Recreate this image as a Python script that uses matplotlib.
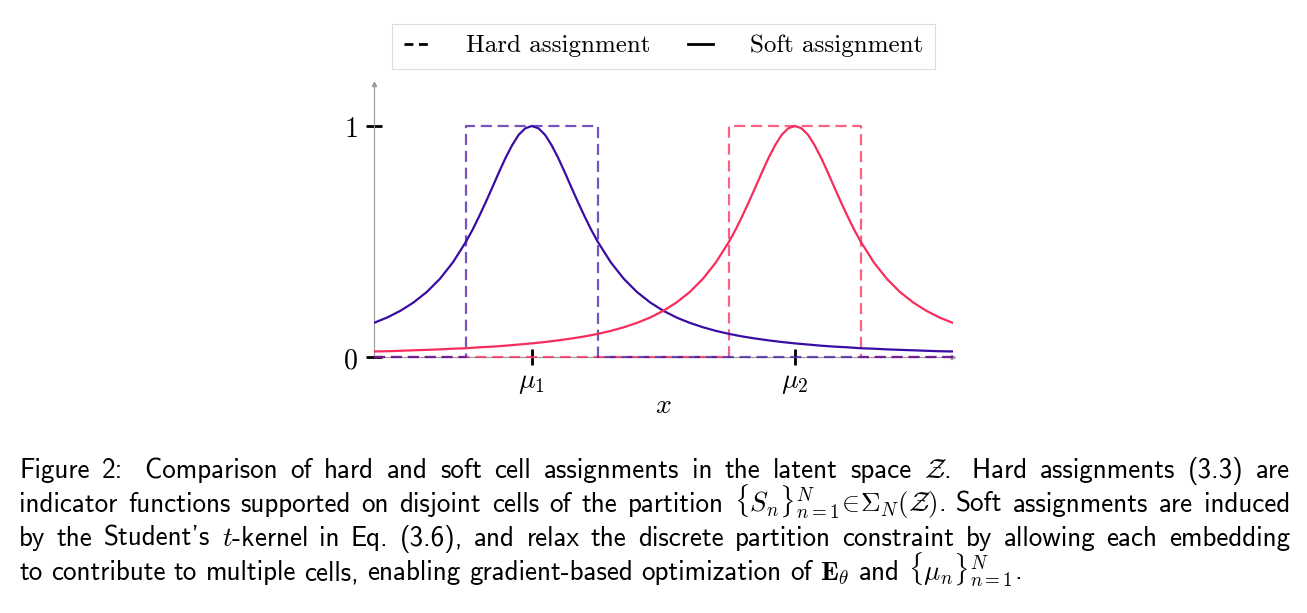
import matplotlib
matplotlib.use("Agg")
import matplotlib.pyplot as plt
from matplotlib.lines import Line2D

plt.rcParams['mathtext.fontset'] = 'cm'
plt.rcParams['axes.unicode_minus'] = False

# soft assignment (Student's t-kernel), finer near the peaks
x_soft_1 = [-2.2, -2.1, -2.0, -1.9, -1.8, -1.7, -1.6, -1.5,
            -1.45, -1.4, -1.35, -1.3, -1.25, -1.2, -1.15, -1.1, -1.05, -1.0,
            -0.95, -0.9, -0.85, -0.8, -0.75, -0.7, -0.65, -0.6, -0.55, -0.5,
            -0.4, -0.3, -0.2, -0.1, 0.0, 0.1, 0.2, 0.3, 0.4, 0.5, 0.6, 0.7, 0.8,
            0.9, 1.0, 1.1, 1.2, 1.3, 1.4, 1.5, 1.6, 1.7, 1.8, 1.9, 2.0, 2.1, 2.2]
soft_1 = [0.148, 0.171, 0.200, 0.236, 0.281, 0.338, 0.410, 0.500,
          0.552, 0.610, 0.671, 0.735, 0.800, 0.862, 0.917, 0.962, 0.990, 1.000,
          0.990, 0.962, 0.917, 0.862, 0.800, 0.735, 0.671, 0.610, 0.552, 0.500,
          0.410, 0.338, 0.281, 0.236, 0.200, 0.171, 0.148, 0.129, 0.113, 0.100,
          0.089, 0.080, 0.072, 0.065, 0.059, 0.054, 0.049, 0.045, 0.042, 0.038,
          0.036, 0.033, 0.031, 0.029, 0.027, 0.025, 0.024]

x_soft_2 = [-2.2, -2.1, -2.0, -1.9, -1.8, -1.7, -1.6, -1.5, -1.4, -1.3, -1.2,
            -1.1, -1.0, -0.9, -0.8, -0.7, -0.6, -0.5, -0.4, -0.3, -0.2, -0.1,
            0.0, 0.1, 0.2, 0.3, 0.4,
            0.5, 0.55, 0.6, 0.65, 0.7, 0.75, 0.8, 0.85, 0.9, 0.95,
            1.0, 1.05, 1.1, 1.15, 1.2, 1.25, 1.3, 1.35, 1.4, 1.45,
            1.5, 1.6, 1.7, 1.8, 1.9, 2.0, 2.1, 2.2]
soft_2 = [0.024, 0.025, 0.027, 0.029, 0.031, 0.033, 0.036, 0.038, 0.042, 0.045,
          0.049, 0.054, 0.059, 0.065, 0.072, 0.080, 0.089, 0.100, 0.113, 0.129,
          0.148, 0.171, 0.200, 0.236, 0.281, 0.338, 0.410,
          0.500, 0.552, 0.610, 0.671, 0.735, 0.800, 0.862, 0.917, 0.962, 0.990,
          1.000, 0.990, 0.962, 0.917, 0.862, 0.800, 0.735, 0.671, 0.610, 0.552,
          0.500, 0.410, 0.338, 0.281, 0.236, 0.200, 0.171, 0.148]

# hard assignment (indicator of each cell)
hard_x1 = [-2.2, -1.5, -1.5, -0.5, -0.5, 2.2]
hard_1 = [0, 0, 1, 1, 0, 0]
hard_x2 = [-2.2, 0.5, 0.5, 1.5, 1.5, 2.2]
hard_2 = [0, 0, 1, 1, 0, 0]

centers = [-1, 1]
center_labels = [r'$\mu_1$', r'$\mu_2$']

purple = '#3a0ca3'
pink = '#f72d5c'

fig = plt.figure(figsize=(13.07, 6.13), dpi=100)
ax = fig.add_axes([0.2862, 0.4176, 0.4427, 0.4447])

dash = (5, 2.6)
ax.plot(hard_x2, hard_2, color=pink, lw=1.6, alpha=0.75, dashes=dash, clip_on=False, zorder=3)
ax.plot(hard_x1, hard_1, color=purple, lw=1.6, alpha=0.7, dashes=dash, clip_on=False, zorder=3)
ax.plot(x_soft_1, soft_1, color=purple, lw=1.6, zorder=4)
ax.plot(x_soft_2, soft_2, color=pink, lw=1.6, zorder=4)

ax.set_xlim(-2.2, 2.2)
ax.set_ylim(0, 1.18)

for s in ['top', 'right']:
    ax.spines[s].set_visible(False)
for s in ['left', 'bottom']:
    ax.spines[s].set_color('#9a9a9a')
    ax.spines[s].set_linewidth(0.8)
ax.plot(1, 0, '>', color='#9a9a9a', ms=3, transform=ax.transAxes, clip_on=False)
ax.plot(0, 1, '^', color='#9a9a9a', ms=3, transform=ax.transAxes, clip_on=False)

ax.set_xticks(centers)
ax.set_xticklabels(center_labels)
ax.set_yticks([0, 1])
ax.set_yticklabels([r'$0$', r'$1$'])
ax.tick_params(direction='inout', length=12, width=2, color='black', labelsize=20)
ax.tick_params(axis='x', pad=2)
ax.tick_params(axis='y', pad=6)
ax.set_xlabel(r'$x$', fontsize=20, labelpad=-4)

handles = [Line2D([], [], color='black', lw=2, dashes=(3.2, 2.0)),
           Line2D([], [], color='black', lw=2)]
leg = fig.legend(handles, ['Hard assignment', 'Soft assignment'], loc='center',
                 bbox_to_anchor=(663.5 / 1307, 1 - 46 / 613), ncol=2,
                 prop={'family': 'cmr10', 'size': 18}, fancybox=False, framealpha=1,
                 edgecolor='#dddddd', handlelength=1.0, handletextpad=1.5,
                 columnspacing=1.5, borderpad=0.45)
leg.get_frame().set_linewidth(0.8)

# caption, justified line by line
caption = [
    ['Figure', '2:', ' Comparison', 'of', 'hard', 'and', 'soft', 'cell', 'assignments', 'in',
     'the', 'latent', 'space', r'$\mathcal{Z}$.', ' Hard', 'assignments', '(3.3)', 'are'],
    ['indicator', 'functions', 'supported', 'on', 'disjoint', 'cells', 'of', 'the', 'partition',
     r'$\{S_n\}_{n=1}^N\!\in\!\Sigma_N(\mathcal{Z})$.', 'Soft', 'assignments', 'are', 'induced'],
    ['by', 'the', "Student's", r'$t$-kernel', 'in', 'Eq.', '(3.6),', 'and', 'relax', 'the',
     'discrete', 'partition', 'constraint', 'by', 'allowing', 'each', 'embedding'],
    ['to', 'contribute', 'to', 'multiple', 'cells,', 'enabling', 'gradient-based',
     'optimization', 'of', r'$\mathbf{E}_\theta$', 'and', r'$\{\mu_n\}_{n=1}^N$.'],
]
baselines = [478, 512, 546, 580]
left_px, right_px = 19, 1290
W, H = 1307, 613
renderer = fig.canvas.get_renderer()
for i, words in enumerate(caption):
    texts = [fig.text(0, 1 - baselines[i] / H, w, family='cmss10', fontsize=19.5,
                      va='baseline', ha='left') for w in words]
    widths = [t.get_window_extent(renderer).width for t in texts]
    if i < len(caption) - 1:
        gap = (right_px - left_px - sum(widths)) / (len(words) - 1)
    else:
        gap = 8.5
    pos = left_px
    for t, w in zip(texts, widths):
        t.set_x(pos / W)
        pos += w + gap

fig.savefig('out.png', dpi=100)
